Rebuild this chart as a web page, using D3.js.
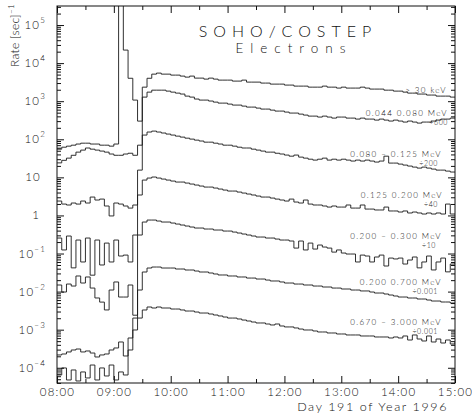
<!DOCTYPE html>
<html><head><meta charset="utf-8">
<script src="https://cdn.jsdelivr.net/npm/d3@7"></script>
<style>
body{margin:0;background:#fff;}
svg text{font-family:"Lato","DejaVu Sans",sans-serif;font-weight:300;fill:#111;}
</style></head><body>
<svg id="chart" width="472" height="414"></svg>
<script>
// ---------- data ----------
const xTickLabels = ["08:00","09:00","10:00","11:00","12:00","13:00","14:00","15:00"];
const xTickHours = [8,9,10,11,12,13,14,15];
const yTickExponents = [5,4,3,2,1,0,-1,-2,-3,-4];
const startHour = 8, stepMinutes = 5;   // samples every 5 minutes from 08:00

const seriesLabels = ["> 30 keV","0.044   0.080 MeV","0.080 \u2013 0.125 MeV","0.125   0.200 MeV",
                      "0.200 \u2013 0.300 MeV","0.200   0.700 MeV","0.670 \u2013 3.000 MeV"];
const seriesFactors = ["","\u00f7600","\u00f7200","\u00f740","\u00f710","\u00f70.001","\u00f70.001"];

const e30keV = [55,62,66,70,75,79,79,75,75,70,70,66,75,500000,22000,4000,1070,300,2340,4000,5140,5470,5140,5140,4840,4840,4560,4290,4560,4040,4040,3800,4040,3800,3580,3580,3580,3370,3370,3580,3170,3170,3170,2990,2990,2810,2810,2810,2650,2650,2490,2490,2490,2340,2340,2340,2490,2340,2340,2210,2340,2210,2210,2210,2340,2210,2080,2080,2080,1950,1950,1840,1840,1730,1630,1630,1540,1540,1450,1450,1360,1360,1360,1280,1280];
const e044 = [24,28,32,38,46,52,59,55,52,49,46,41,38,38,41,43,38,70,1280,1730,1950,1950,1950,1840,1730,1630,1540,1360,1280,1140,1070,1070,1010,946,891,891,839,791,791,743,700,700,659,621,621,583,550,550,518,488,488,458,432,406,406,383,406,383,360,383,383,360,360,339,360,339,339,319,339,319,301,319,301,283,301,283,266,283,283,301,319,339,339,360,360];
const e080 = [2.39,1.99,1.88,2.12,1.99,2.39,2.12,3.04,2.54,2.69,1.77,0.97,2.12,1.99,1.77,1.56,1.88,15.5,129,155,164,155,146,137,129,121,114,107,101,95,90,84,84,79,75,70,70,66,62,59,59,55,52,49,46,46,43,41,38.5,36,38.5,34,32,30,28.4,30,32,28.4,30,28.4,30,28.4,26.8,28.4,26.8,28.4,26.8,25.2,26.8,36,23.7,23.7,22.3,21,19.8,18.6,17.5,18.6,17.5,16.5,15.5,15.5,14.6,13.8,13.8];
const e125 = [0.255,0.124,0.288,0.042,0.226,0.060,0.255,0.027,0.226,0.050,0.188,0.060,0.226,0.086,0.091,0.060,0.306,3.44,8.49,9.59,10.2,9.59,9.02,8.49,8.0,7.53,7.53,7.08,6.67,6.28,5.91,5.56,5.56,5.24,4.93,4.64,4.37,4.37,4.11,3.87,3.65,3.44,3.23,3.04,3.04,2.86,2.69,2.54,2.39,2.69,2.25,2.12,2.54,1.99,1.88,1.88,1.77,1.66,1.77,1.66,1.66,1.88,1.56,1.56,1.88,1.47,1.47,1.39,1.39,1.66,1.31,1.31,1.23,1.31,1.16,1.23,1.16,1.09,1.16,1.09,1.16,1.09,1.99,1.09,1.09];
const e200 = [0.0149,0.00975,0.0158,0.0140,0.0257,0.0168,0.0242,0.0124,0.0068,0.0053,0.0033,0.0110,0.0179,0.0072,0.0072,0.0149,0.0024,0.306,0.671,0.757,0.757,0.713,0.671,0.671,0.631,0.594,0.560,0.527,0.496,0.467,0.467,0.440,0.440,0.414,0.414,0.389,0.389,0.366,0.345,0.325,0.306,0.288,0.271,0.271,0.255,0.255,0.240,0.226,0.226,0.213,0.139,0.213,0.124,0.188,0.131,0.167,0.148,0.139,0.109,0.124,0.103,0.097,0.097,0.060,0.091,0.086,0.060,0.081,0.091,0.047,0.076,0.072,0.076,0.053,0.0675,0.081,0.042,0.060,0.086,0.037,0.060,0.076,0.033,0.053,0.060];
const e200_700 = [2.17e-4,2.30e-4,2.60e-4,2.93e-4,3.11e-4,2.60e-4,2.76e-4,2.44e-4,1.92e-4,2.17e-4,2.30e-4,2.93e-4,3.31e-4,4.75e-4,2.04e-4,6.05e-4,2.02e-3,0.0110,0.0327,0.0416,0.0442,0.0442,0.0416,0.0416,0.0416,0.0392,0.0392,0.0369,0.0369,0.0347,0.0327,0.0327,0.0308,0.0290,0.0273,0.0273,0.0257,0.0257,0.0242,0.0242,0.0227,0.0227,0.0214,0.0214,0.0201,0.0190,0.0190,0.0179,0.0168,0.0168,0.0158,0.0158,0.0149,0.0149,0.0140,0.0140,0.0132,0.0132,0.0124,0.0124,0.0117,0.0117,0.0110,0.0110,0.0104,0.0104,0.00975,0.00918,0.00918,0.00865,0.00813,0.00766,0.00721,0.00721,0.00679,0.00679,0.00639,0.00639,0.00601,0.00566,0.00566,0.00533,0.00533,0.00501,0.00472];
const e670 = [6.47e-5,9.88e-5,4.78e-5,8.75e-5,4.50e-5,7.76e-5,5.40e-5,1.18e-4,4.78e-5,9.88e-5,6.09e-5,1.18e-4,4.78e-5,7.76e-5,6.47e-5,2.93e-4,9.82e-4,2.02e-3,3.29e-3,3.94e-3,3.71e-3,3.94e-3,3.71e-3,3.71e-3,3.49e-3,3.49e-3,3.29e-3,3.09e-3,3.09e-3,2.91e-3,2.74e-3,2.74e-3,2.58e-3,2.43e-3,2.29e-3,2.15e-3,2.02e-3,2.02e-3,1.91e-3,1.79e-3,1.69e-3,1.59e-3,1.50e-3,1.50e-3,1.41e-3,1.33e-3,1.41e-3,1.25e-3,1.18e-3,1.18e-3,1.11e-3,1.04e-3,9.82e-4,9.82e-4,9.24e-4,8.70e-4,8.70e-4,8.19e-4,8.19e-4,7.71e-4,7.71e-4,7.26e-4,7.26e-4,7.26e-4,6.83e-4,6.83e-4,6.83e-4,6.43e-4,6.43e-4,6.43e-4,6.05e-4,6.43e-4,6.05e-4,6.83e-4,5.36e-4,7.26e-4,5.69e-4,5.05e-4,6.83e-4,4.75e-4,5.69e-4,4.47e-4,5.36e-4,4.21e-4,4.75e-4];

const allSeries = [e30keV,e044,e080,e125,e200,e200_700,e670];

// ---------- layout ----------
const svg = d3.select("#chart");
const L = 57, R = 455, T = 6, B = 383;
const x = d3.scaleLinear().domain([8,15]).range([L,R]);
const y = d3.scaleLog().domain([Math.pow(10,-4.4), Math.pow(10,5.5)]).range([B,T]);

svg.append("defs").append("clipPath").attr("id","clip")
  .append("rect").attr("x",L).attr("y",T).attr("width",R-L).attr("height",B-T);

// series
const line = d3.line()
  .x((d,i)=>x(startHour + i*stepMinutes/60))
  .y(d=>y(d))
  .curve(d3.curveStepAfter);
const g = svg.append("g").attr("clip-path","url(#clip)");
allSeries.forEach(s=>{
  g.append("path").attr("d",line(s)).attr("fill","none")
   .attr("stroke","#1a1a1a").attr("stroke-width",0.9);
});

// axes
function styleAxis(sel){
  sel.select(".domain").remove();
  sel.selectAll("line").attr("stroke","#111").attr("stroke-width",1);
}
const halfHours = d3.range(8.5,15,1);
const yMajor = yTickExponents.map(e=>Math.pow(10,e));
const yMinor = [];
for(let e=-5;e<=5;e++) for(let m=2;m<=9;m++){const v=m*Math.pow(10,e); if(v>=y.domain()[0]&&v<=y.domain()[1]) yMinor.push(v);}

svg.append("g").attr("transform",`translate(0,${B})`)
  .call(d3.axisBottom(x).tickValues(xTickHours).tickSize(-7).tickPadding(5)
        .tickFormat((d,i)=>xTickLabels[i])).call(styleAxis)
  .selectAll("text").attr("font-size",11.5).attr("letter-spacing",1.2).attr("fill","#111");
svg.append("g").attr("transform",`translate(0,${B})`)
  .call(d3.axisBottom(x).tickValues(halfHours).tickSize(-4).tickFormat("")).call(styleAxis);
svg.append("g").attr("transform",`translate(0,${T})`)
  .call(d3.axisTop(x).tickValues(xTickHours).tickSize(-7).tickFormat("")).call(styleAxis);
svg.append("g").attr("transform",`translate(0,${T})`)
  .call(d3.axisTop(x).tickValues(halfHours).tickSize(-4).tickFormat("")).call(styleAxis);
svg.append("g").attr("transform",`translate(${L},0)`)
  .call(d3.axisLeft(y).tickValues(yMajor).tickSize(-7).tickFormat("")).call(styleAxis);
svg.append("g").attr("transform",`translate(${L},0)`)
  .call(d3.axisLeft(y).tickValues(yMinor).tickSize(-4).tickFormat("")).call(styleAxis);
svg.append("g").attr("transform",`translate(${R},0)`)
  .call(d3.axisRight(y).tickValues(yMajor).tickSize(-7).tickFormat("")).call(styleAxis);
svg.append("g").attr("transform",`translate(${R},0)`)
  .call(d3.axisRight(y).tickValues(yMinor).tickSize(-4).tickFormat("")).call(styleAxis);

// frame
svg.append("rect").attr("x",L).attr("y",T).attr("width",R-L).attr("height",B-T)
  .attr("fill","none").attr("stroke","#111").attr("stroke-width",1);

// y tick labels
yTickExponents.forEach(e=>{
  const t = svg.append("text").attr("y",y(Math.pow(10,e))+4).attr("font-size",11.5)
    .attr("letter-spacing",1.2).attr("text-anchor","end");
  if(e===0){ t.attr("x",40).text("1"); }
  else if(e===1){ t.attr("x",41).text("10"); }
  else {
    t.attr("x",46);
    t.append("tspan").text("10");
    t.append("tspan").attr("dy",-6).attr("font-size",8).text(String(e).replace("-","\u2212"));
  }
});

// axis titles
svg.append("text").attr("x",448).attr("y",411).attr("text-anchor","end")
  .attr("font-size",12.5).attr("letter-spacing",1.6).text("Day 191 of Year 1996");
const rt = svg.append("text").attr("transform","translate(19,67) rotate(-90)")
  .attr("font-size",12).attr("letter-spacing",0.3);
rt.append("tspan").text("Rate [sec]");
rt.append("tspan").attr("dy",-5).attr("font-size",8).text("\u22121");

// title
svg.append("text").attr("x",288).attr("y",37).attr("text-anchor","middle")
  .attr("font-size",16).attr("letter-spacing",6).text("SOHO/COSTEP");
svg.append("text").attr("x",294).attr("y",53).attr("text-anchor","middle")
  .attr("font-size",13.5).attr("letter-spacing",7).text("Electrons");

// series labels
const labelPos = [[447,93],[448,116],[442,157],[443,198],[442,239],[442,285],[442,325]];
const factorPos = [[0,0],[448,125],[438,166],[438,207],[436,248],[438,294],[438,334]];
seriesLabels.forEach((s,i)=>{
  svg.append("text").attr("x",labelPos[i][0]).attr("y",labelPos[i][1]).attr("text-anchor","end")
    .attr("font-size",8).attr("letter-spacing",1.4).text(s);
  if(seriesFactors[i]) svg.append("text").attr("x",factorPos[i][0]).attr("y",factorPos[i][1])
    .attr("text-anchor","end").attr("font-size",7).attr("letter-spacing",0.6).text(seriesFactors[i]);
});
</script></body></html>
